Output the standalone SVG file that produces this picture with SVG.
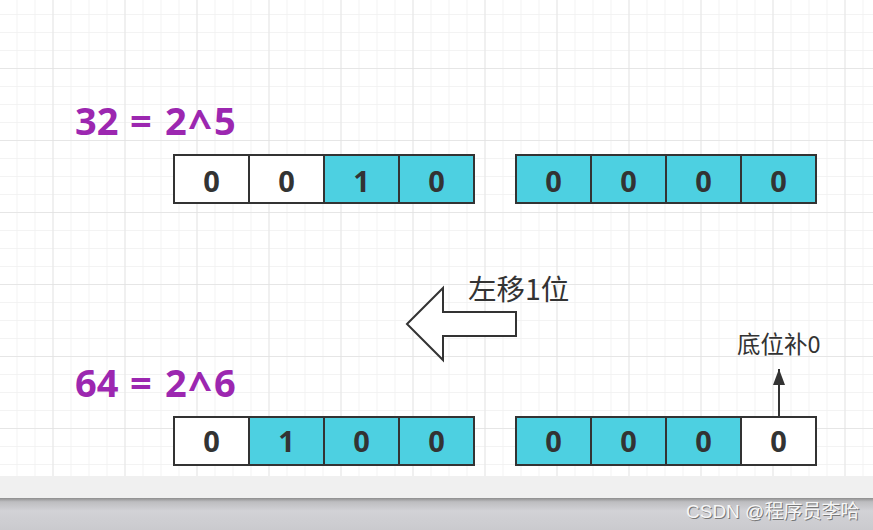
<svg xmlns="http://www.w3.org/2000/svg" width="873" height="530" viewBox="0 0 873 530">
<defs>
<pattern id="minor" x="-1.5" y="-4" width="18" height="18" patternUnits="userSpaceOnUse">
<path d="M0 0H18M0 0V18" fill="none" stroke="#efefef" stroke-width="1.5"/>
</pattern>
<pattern id="major" x="52.5" y="-4" width="72" height="72" patternUnits="userSpaceOnUse">
<path d="M0 0H72M0 0V72" fill="none" stroke="#e2e2e2" stroke-width="1.5"/>
</pattern>
<linearGradient id="band" x1="0" y1="0" x2="0" y2="1">
<stop offset="0" stop-color="#8e8e8e"/>
<stop offset="0.12" stop-color="#bdbdc0"/>
<stop offset="0.4" stop-color="#d2d2d6"/>
<stop offset="1" stop-color="#cacace"/>
</linearGradient>
<marker id="ah" viewBox="0 0 16 12" refX="16" refY="6" markerWidth="16" markerHeight="12" markerUnits="userSpaceOnUse" orient="auto">
<path d="M0 0L16 6L0 12Z" fill="#333"/>
</marker>
</defs>
<style>
.cell{stroke:#333;stroke-width:2}
.w{fill:#ffffff}
.c{fill:#4dd0e1}
.d{font-family:"Open Sans","DejaVu Sans",sans-serif;font-weight:bold;font-size:29px;fill:#333;text-anchor:middle}
.eq{font-family:"Open Sans","DejaVu Sans",sans-serif;font-weight:bold;font-size:38px;fill:#9c27b0}
.car{font-size:42px}
.cjk{font-family:"Noto Sans CJK SC","Noto Sans",sans-serif;fill:#333}
</style>
<rect x="0" y="0" width="873" height="476" fill="#ffffff"/>
<rect x="0" y="0" width="873" height="476" fill="url(#minor)"/>
<rect x="0" y="0" width="873" height="476" fill="url(#major)"/>
<rect x="0" y="476" width="873" height="22" fill="#f0f0f0"/>
<rect x="0" y="498" width="873" height="32" fill="url(#band)"/>

<g id="label-32">
<text class="eq" y="135"><tspan x="75">32</tspan><tspan x="130">=</tspan><tspan x="165">2</tspan><tspan x="214">5</tspan></text>
<text class="eq car" x="188" y="140">^</text>
</g>
<g id="label-64">
<text class="eq" y="397"><tspan x="75">64</tspan><tspan x="130">=</tspan><tspan x="165">2</tspan><tspan x="214">6</tspan></text>
<text class="eq car" x="188" y="402">^</text>
</g>

<g id="top-high">
<rect class="cell w" x="174" y="155" width="75" height="48"/>
<rect class="cell w" x="249" y="155" width="75" height="48"/>
<rect class="cell c" x="324" y="155" width="75" height="48"/>
<rect class="cell c" x="399" y="155" width="75" height="48"/>
<text class="d" x="211.5" y="192">0</text>
<text class="d" x="286.5" y="192">0</text>
<text class="d" x="361.5" y="192">1</text>
<text class="d" x="436.5" y="192">0</text>
</g>
<g id="top-low">
<rect class="cell c" x="516" y="155" width="75" height="48"/>
<rect class="cell c" x="591" y="155" width="75" height="48"/>
<rect class="cell c" x="666" y="155" width="75" height="48"/>
<rect class="cell c" x="741" y="155" width="75" height="48"/>
<text class="d" x="553.5" y="192">0</text>
<text class="d" x="628.5" y="192">0</text>
<text class="d" x="703.5" y="192">0</text>
<text class="d" x="778.5" y="192">0</text>
</g>
<g id="bottom-high">
<rect class="cell w" x="174" y="417" width="75" height="48"/>
<rect class="cell c" x="249" y="417" width="75" height="48"/>
<rect class="cell c" x="324" y="417" width="75" height="48"/>
<rect class="cell c" x="399" y="417" width="75" height="48"/>
<text class="d" x="211.5" y="452">0</text>
<text class="d" x="286.5" y="452">1</text>
<text class="d" x="361.5" y="452">0</text>
<text class="d" x="436.5" y="452">0</text>
</g>
<g id="bottom-low">
<rect class="cell c" x="516" y="417" width="75" height="48"/>
<rect class="cell c" x="591" y="417" width="75" height="48"/>
<rect class="cell c" x="666" y="417" width="75" height="48"/>
<rect class="cell w" x="741" y="417" width="75" height="48"/>
<text class="d" x="553.5" y="452">0</text>
<text class="d" x="628.5" y="452">0</text>
<text class="d" x="703.5" y="452">0</text>
<text class="d" x="778.5" y="452">0</text>
</g>

<g id="shift-arrow">
<polygon points="407,324 443,288 443,312 516,312 516,336 443,336 443,360" fill="#ffffff" stroke="#333" stroke-width="2" stroke-linejoin="miter"/>
<text class="cjk" x="468" y="300" font-size="28.5">左移1位</text>
</g>

<g id="connectors">
<line x1="779" y1="417" x2="779" y2="369" stroke="#333" stroke-width="2" marker-end="url(#ah)"/>
</g>
<g id="fill-label">
<text class="cjk" x="737" y="353" font-size="23.5">底位补0</text>
</g>

<g id="watermark" font-family="'Liberation Sans','Noto Sans CJK SC',sans-serif" font-size="19">
<text x="687" y="519" fill="#777">CSDN @程序员李哈</text>
<text x="686" y="518" fill="#f6f6f6">CSDN @程序员李哈</text>
</g>
</svg>
